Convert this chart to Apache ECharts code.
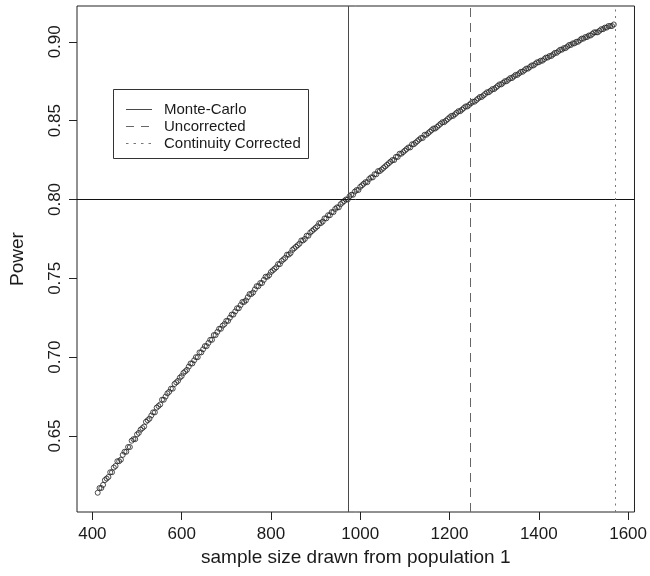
<!DOCTYPE html>
<html style="height: 100%">
<head>
<meta charset="utf-8">
</head>
<body style="height: 100%; margin: 0; background: #fff">
	<div id="container" style="width: 650px; height: 576px"></div>
	<script type="text/javascript" src="https://cdn.jsdelivr.net/npm/echarts@6/dist/echarts.min.js"></script>
	<script type="text/javascript">
		// sample sizes (x) and simulated power (y)
		var sampleSize = [
			412,416,420,424,428,432,436,440,444,448,452,456,460,464,468,472,476,480,484,488,
			492,496,500,504,508,512,516,520,524,528,532,536,540,544,548,552,556,560,564,568,
			572,576,580,584,588,592,596,600,604,608,612,616,620,624,628,632,636,640,644,648,
			652,656,660,664,668,672,676,680,684,688,692,696,700,704,708,712,716,720,724,728,
			732,736,740,744,748,752,756,760,764,768,772,776,780,784,788,792,796,800,804,808,
			812,816,820,824,828,832,836,840,844,848,852,856,860,864,868,872,876,880,884,888,
			892,896,900,904,908,912,916,920,924,928,932,936,940,944,948,952,956,960,964,968,
			972,976,980,984,988,992,996,1000,1004,1008,1012,1016,1020,1024,1028,1032,1036,1040,1044,1048,
			1052,1056,1060,1064,1068,1072,1076,1080,1084,1088,1092,1096,1100,1104,1108,1112,1116,1120,1124,1128,
			1132,1136,1140,1144,1148,1152,1156,1160,1164,1168,1172,1176,1180,1184,1188,1192,1196,1200,1204,1208,
			1212,1216,1220,1224,1228,1232,1236,1240,1244,1248,1252,1256,1260,1264,1268,1272,1276,1280,1284,1288,
			1292,1296,1300,1304,1308,1312,1316,1320,1324,1328,1332,1336,1340,1344,1348,1352,1356,1360,1364,1368,
			1372,1376,1380,1384,1388,1392,1396,1400,1404,1408,1412,1416,1420,1424,1428,1432,1436,1440,1444,1448,
			1452,1456,1460,1464,1468,1472,1476,1480,1484,1488,1492,1496,1500,1504,1508,1512,1516,1520,1524,1528,
			1532,1536,1540,1544,1548,1552,1556,1560,1564,1568
		];
		var power = [
			0.614,0.617,0.617,0.619,0.622,0.623,0.624,0.627,0.627,0.630,0.631,0.634,0.634,0.635,0.638,0.640,0.640,0.643,0.643,0.647,
			0.648,0.648,0.651,0.652,0.654,0.655,0.656,0.659,0.660,0.661,0.663,0.665,0.665,0.668,0.669,0.670,0.673,0.673,0.675,0.677,
			0.678,0.680,0.680,0.683,0.684,0.685,0.687,0.688,0.690,0.691,0.692,0.694,0.696,0.696,0.698,0.700,0.700,0.703,0.703,0.705,
			0.707,0.707,0.709,0.711,0.711,0.714,0.714,0.716,0.718,0.718,0.720,0.721,0.723,0.723,0.725,0.727,0.727,0.729,0.731,0.731,
			0.733,0.735,0.735,0.736,0.738,0.740,0.740,0.741,0.743,0.745,0.745,0.747,0.747,0.749,0.751,0.751,0.752,0.754,0.755,0.756,
			0.757,0.759,0.759,0.761,0.762,0.763,0.765,0.765,0.766,0.768,0.769,0.770,0.771,0.772,0.774,0.774,0.775,0.777,0.777,0.779,
			0.780,0.781,0.782,0.783,0.785,0.785,0.786,0.788,0.788,0.790,0.790,0.792,0.792,0.794,0.795,0.795,0.797,0.798,0.799,0.800,
			0.800,0.802,0.803,0.803,0.805,0.806,0.806,0.808,0.809,0.810,0.811,0.811,0.813,0.814,0.814,0.816,0.816,0.818,0.818,0.819,
			0.820,0.821,0.822,0.823,0.824,0.825,0.825,0.827,0.827,0.829,0.829,0.830,0.831,0.832,0.833,0.833,0.835,0.835,0.836,0.837,
			0.838,0.839,0.839,0.841,0.841,0.842,0.843,0.844,0.845,0.845,0.846,0.847,0.848,0.849,0.849,0.850,0.851,0.852,0.853,0.853,
			0.854,0.855,0.856,0.856,0.857,0.858,0.859,0.859,0.860,0.861,0.862,0.862,0.863,0.864,0.865,0.865,0.866,0.867,0.868,0.868,
			0.869,0.870,0.870,0.871,0.872,0.873,0.873,0.874,0.875,0.875,0.876,0.877,0.877,0.878,0.879,0.879,0.880,0.881,0.881,0.882,
			0.883,0.883,0.884,0.885,0.885,0.886,0.887,0.887,0.888,0.888,0.889,0.890,0.890,0.891,0.891,0.892,0.893,0.893,0.894,0.895,
			0.895,0.896,0.896,0.897,0.898,0.898,0.899,0.899,0.900,0.900,0.901,0.902,0.902,0.903,0.903,0.904,0.904,0.905,0.906,0.906,
			0.906,0.907,0.908,0.908,0.909,0.909,0.910,0.910,0.910,0.911
		];
		var xTicks = [400, 600, 800, 1000, 1200, 1400, 1600];
		var yTicks = [0.65, 0.70, 0.75, 0.80, 0.85, 0.90];
		var legendNames = ['Monte-Carlo', 'Uncorrected', 'Continuity Corrected'];
		var cutoffSize = [974, 1246, 1572];   // where each method reaches the target power
		var targetPower = 0.80;

		var points = [];
		for (var i = 0; i < sampleSize.length; i++) {
			points.push([sampleSize[i], power[i]]);
		}

		var txt = '#1a1a1a';
		var font = '"Liberation Sans", Arial, sans-serif';
		var dash = ['solid', [9, 6], [2, 4.5]];
		var legendDash = [null, [8, 7], [2.5, 5]];
		var lineColor = ['#4a4a4a', '#666', '#777'];

		var series = [{
			type: 'scatter',
			data: points,
			symbol: 'circle',
			symbolSize: 5,
			itemStyle: { color: 'rgba(0,0,0,0)', borderColor: '#222', borderWidth: 1 },
			silent: true,
			z: 3,
			markLine: {
				silent: true,
				symbol: ['none', 'none'],
				label: { show: false },
				animation: false,
				lineStyle: { color: '#111', type: 'solid', width: 1 },
				data: [{ yAxis: targetPower }]
			}
		}];
		for (var k = 0; k < cutoffSize.length; k++) {
			series.push({
				type: 'line',
				data: [],
				markLine: {
					silent: true,
					symbol: ['none', 'none'],
					label: { show: false },
					animation: false,
					lineStyle: { color: lineColor[k], type: dash[k], width: 1 },
					data: [{ xAxis: cutoffSize[k] }]
				}
			});
		}

		// R-style legend box drawn by hand
		var legendItems = [{
			type: 'rect',
			shape: { x: 113.5, y: 89.5, width: 195, height: 69 },
			style: { fill: '#fff', stroke: '#333', lineWidth: 1 }
		}];
		for (var j = 0; j < legendNames.length; j++) {
			var ly = 109.5 + j * 17;
			legendItems.push({
				type: 'line',
				shape: { x1: 126, y1: ly, x2: 152, y2: ly },
				style: { stroke: lineColor[j], lineWidth: 1, lineDash: legendDash[j] }
			});
			legendItems.push({
				type: 'text',
				x: 164, y: ly,
				style: { text: legendNames[j], fontSize: 15, fontFamily: font, fill: txt, verticalAlign: 'middle' }
			});
		}

		var myChart = echarts.init(document.getElementById('container'));
		var option = {
			animation: false,
			textStyle: { fontFamily: font, color: txt },
			grid: {
				left: 76, right: 14, top: 6, bottom: 64,
				show: true, borderColor: '#222', borderWidth: 1, backgroundColor: 'transparent'
			},
			graphic: [{ type: 'group', z: 10, children: legendItems }],
			xAxis: {
				type: 'value',
				min: 365.6, max: 1614.3,
				name: 'sample size drawn from population 1',
				nameLocation: 'middle',
				nameGap: 31,
				nameTextStyle: { fontSize: 19, color: txt, fontFamily: font },
				axisLine: { show: false },
				splitLine: { show: false },
				axisTick: { show: true, length: 8, lineStyle: { color: '#222' }, customValues: xTicks },
				axisLabel: {
					fontSize: 17, color: txt, margin: 14, customValues: xTicks, fontFamily: font,
					formatter: function (v) { return String(v); }
				}
			},
			yAxis: {
				type: 'value',
				min: 0.6018, max: 0.9227,
				name: 'Power',
				nameLocation: 'middle',
				nameRotate: 90,
				nameGap: 50,
				nameTextStyle: { fontSize: 19, color: txt, fontFamily: font },
				axisLine: { show: false },
				splitLine: { show: false },
				axisTick: { show: true, length: 8, lineStyle: { color: '#222' }, customValues: yTicks },
				axisLabel: {
					fontSize: 17, color: txt, margin: 13, rotate: 90, customValues: yTicks, fontFamily: font,
					formatter: function (v) { return v.toFixed(2); }
				}
			},
			series: series
		};
		myChart.setOption(option);
	</script>
</body>
</html>
